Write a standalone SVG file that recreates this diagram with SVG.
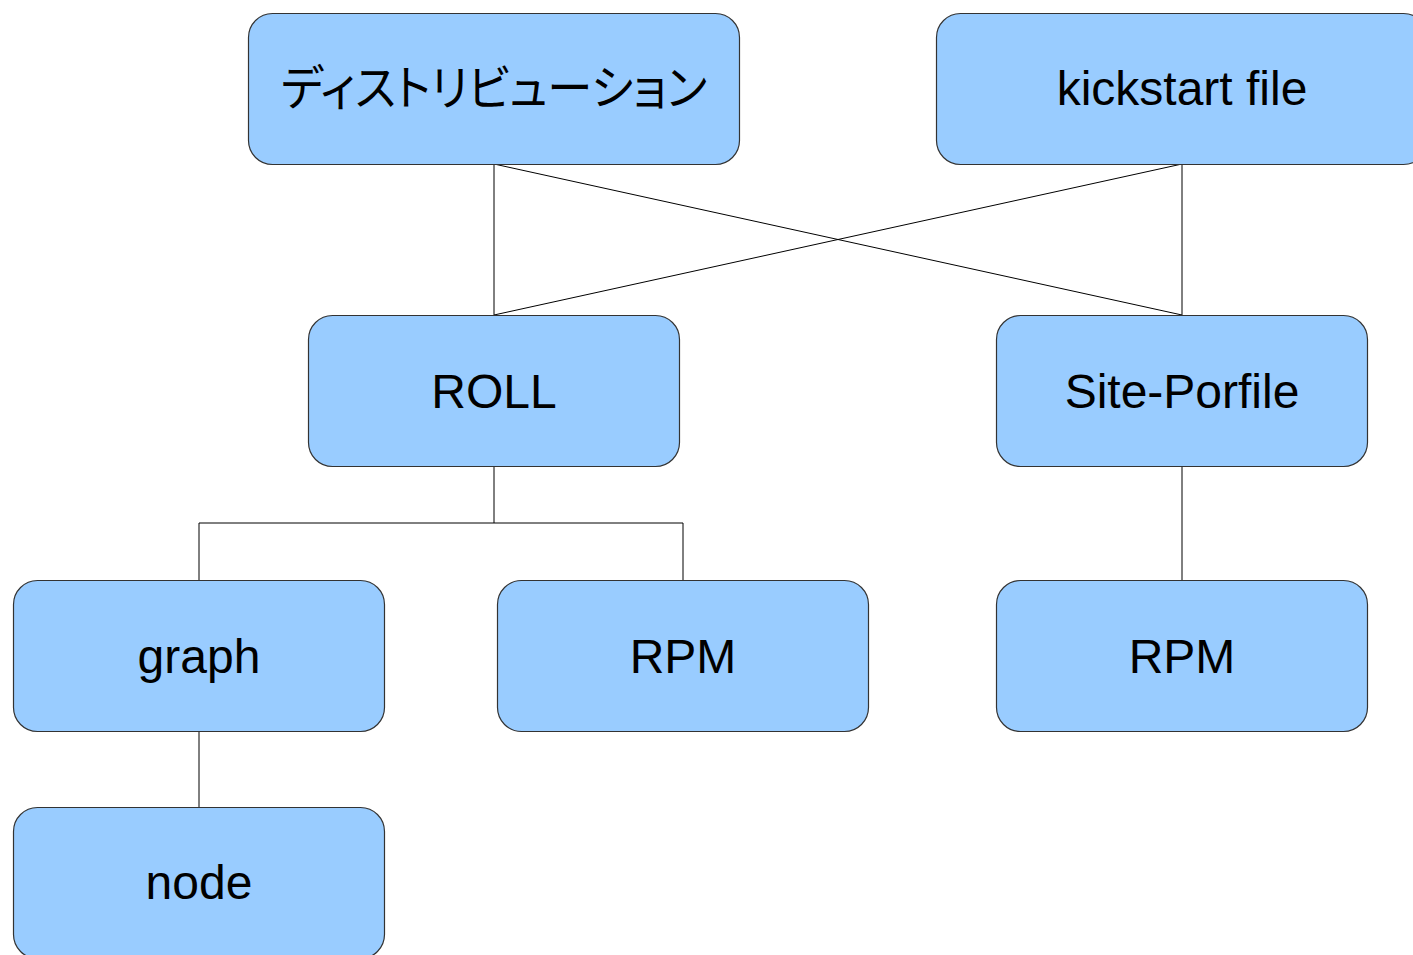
<svg xmlns="http://www.w3.org/2000/svg" width="1413" height="955" viewBox="0 0 1413 955">
  <style>
    .box { fill: #99ccff; stroke: #333333; stroke-width: 1.2; }
    .label { font-family: "Liberation Sans", Arial, sans-serif; font-size: 48px; fill: #000000; text-anchor: middle; }
    .jp { font-family: "Noto Sans CJK JP", "Liberation Sans", sans-serif; font-feature-settings: "palt"; }
    .wire { fill: none; stroke: #000000; stroke-width: 1; }
  </style>
  <rect width="1413" height="955" fill="#ffffff"/>

  <!-- connectors -->
  <g id="connectors">
    <line class="wire" x1="494" y1="164" x2="494" y2="315"/>
    <line class="wire" x1="494" y1="164" x2="1182" y2="315"/>
    <line class="wire" x1="1182" y1="164" x2="494" y2="315"/>
    <line class="wire" x1="1182" y1="164" x2="1182" y2="315"/>
    <polyline class="wire" points="494,466 494,523"/>
    <polyline class="wire" points="199,580 199,523 683,523 683,580"/>
    <line class="wire" x1="1182" y1="466" x2="1182" y2="580"/>
    <line class="wire" x1="199" y1="731" x2="199" y2="807"/>
  </g>

  <g id="distribution">
    <rect class="box" x="248.5" y="13.5" width="491" height="151" rx="24" ry="24"/>
    <text class="label jp" x="494" y="105" font-size="42" textLength="426" lengthAdjust="spacingAndGlyphs">ディストリビューション</text>
  </g>
  <g id="kickstart">
    <rect class="box" x="936.5" y="13.5" width="491" height="151" rx="24" ry="24"/>
    <text class="label" x="1182" y="105">kickstart file</text>
  </g>
  <g id="roll">
    <rect class="box" x="308.5" y="315.5" width="371" height="151" rx="24" ry="24"/>
    <text class="label" x="494" y="408">ROLL</text>
  </g>
  <g id="site-profile">
    <rect class="box" x="996.5" y="315.5" width="371" height="151" rx="24" ry="24"/>
    <text class="label" x="1182" y="408">Site-Porfile</text>
  </g>
  <g id="graph">
    <rect class="box" x="13.5" y="580.5" width="371" height="151" rx="24" ry="24"/>
    <text class="label" x="199" y="673">graph</text>
  </g>
  <g id="rpm-roll">
    <rect class="box" x="497.5" y="580.5" width="371" height="151" rx="24" ry="24"/>
    <text class="label" x="683" y="673">RPM</text>
  </g>
  <g id="rpm-site">
    <rect class="box" x="996.5" y="580.5" width="371" height="151" rx="24" ry="24"/>
    <text class="label" x="1182" y="673">RPM</text>
  </g>
  <g id="node">
    <rect class="box" x="13.5" y="807.5" width="371" height="151" rx="24" ry="24"/>
    <text class="label" x="199" y="899">node</text>
  </g>
</svg>
